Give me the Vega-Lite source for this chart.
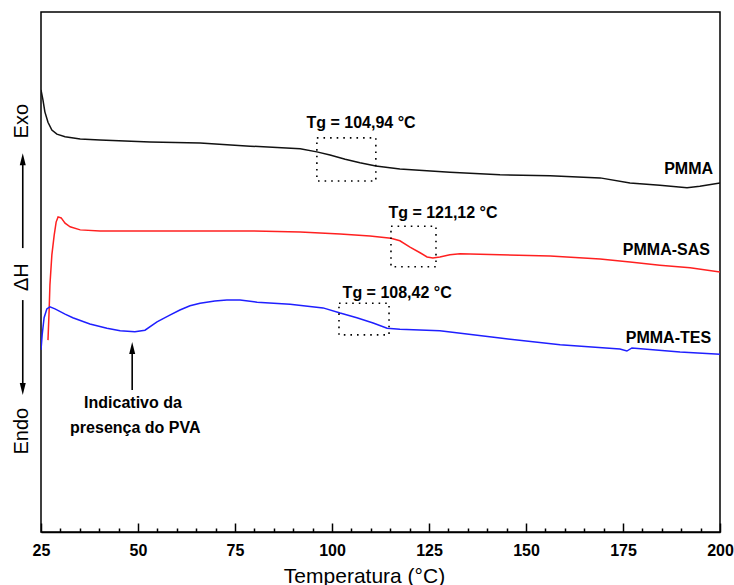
{
  "$schema": "https://vega.github.io/schema/vega-lite/v6.json",
  "width": 679,
  "height": 520,
  "autosize": {"type": "none"},
  "padding": {"left": 41, "top": 12, "right": 14, "bottom": 53},
  "background": "white",
  "config": {
    "view": {"stroke": "black", "strokeWidth": 1.5},
    "font": "Liberation Sans"
  },
  "datasets": {
    "curves": [
      {"series": "PMMA", "T": 25.0, "v": 8.50}, {"series": "PMMA", "T": 25.5, "v": 8.31}, {"series": "PMMA", "T": 26.0, "v": 8.08},
      {"series": "PMMA", "T": 26.8, "v": 7.88}, {"series": "PMMA", "T": 27.8, "v": 7.73}, {"series": "PMMA", "T": 29.1, "v": 7.65},
      {"series": "PMMA", "T": 31.2, "v": 7.60}, {"series": "PMMA", "T": 35.1, "v": 7.56}, {"series": "PMMA", "T": 40.2, "v": 7.54},
      {"series": "PMMA", "T": 53.1, "v": 7.50}, {"series": "PMMA", "T": 66.0, "v": 7.48}, {"series": "PMMA", "T": 78.9, "v": 7.42},
      {"series": "PMMA", "T": 91.8, "v": 7.37}, {"series": "PMMA", "T": 96.1, "v": 7.31}, {"series": "PMMA", "T": 99.5, "v": 7.25},
      {"series": "PMMA", "T": 103.4, "v": 7.17}, {"series": "PMMA", "T": 107.2, "v": 7.10}, {"series": "PMMA", "T": 111.3, "v": 7.04},
      {"series": "PMMA", "T": 117.5, "v": 6.98}, {"series": "PMMA", "T": 130.4, "v": 6.92}, {"series": "PMMA", "T": 143.3, "v": 6.87},
      {"series": "PMMA", "T": 156.2, "v": 6.85}, {"series": "PMMA", "T": 169.1, "v": 6.81}, {"series": "PMMA", "T": 176.8, "v": 6.71},
      {"series": "PMMA", "T": 184.5, "v": 6.67}, {"series": "PMMA", "T": 191.5, "v": 6.62}, {"series": "PMMA", "T": 194.8, "v": 6.65},
      {"series": "PMMA", "T": 200.0, "v": 6.71},
      {"series": "PMMA-SAS", "T": 26.8, "v": 3.69}, {"series": "PMMA-SAS", "T": 27.1, "v": 4.27}, {"series": "PMMA-SAS", "T": 27.3, "v": 4.75},
      {"series": "PMMA-SAS", "T": 27.8, "v": 5.33}, {"series": "PMMA-SAS", "T": 28.4, "v": 5.71}, {"series": "PMMA-SAS", "T": 28.9, "v": 5.96},
      {"series": "PMMA-SAS", "T": 29.4, "v": 6.06}, {"series": "PMMA-SAS", "T": 30.2, "v": 6.04}, {"series": "PMMA-SAS", "T": 31.2, "v": 5.94},
      {"series": "PMMA-SAS", "T": 32.5, "v": 5.87}, {"series": "PMMA-SAS", "T": 35.1, "v": 5.81}, {"series": "PMMA-SAS", "T": 40.2, "v": 5.79},
      {"series": "PMMA-SAS", "T": 53.1, "v": 5.79}, {"series": "PMMA-SAS", "T": 66.0, "v": 5.79}, {"series": "PMMA-SAS", "T": 78.9, "v": 5.79},
      {"series": "PMMA-SAS", "T": 91.8, "v": 5.77}, {"series": "PMMA-SAS", "T": 102.1, "v": 5.73}, {"series": "PMMA-SAS", "T": 109.8, "v": 5.69},
      {"series": "PMMA-SAS", "T": 115.2, "v": 5.65}, {"series": "PMMA-SAS", "T": 117.5, "v": 5.60}, {"series": "PMMA-SAS", "T": 120.1, "v": 5.48},
      {"series": "PMMA-SAS", "T": 122.7, "v": 5.37}, {"series": "PMMA-SAS", "T": 124.5, "v": 5.29}, {"series": "PMMA-SAS", "T": 126.0, "v": 5.27},
      {"series": "PMMA-SAS", "T": 127.8, "v": 5.29}, {"series": "PMMA-SAS", "T": 130.4, "v": 5.33}, {"series": "PMMA-SAS", "T": 133.0, "v": 5.35},
      {"series": "PMMA-SAS", "T": 143.3, "v": 5.33}, {"series": "PMMA-SAS", "T": 156.2, "v": 5.31}, {"series": "PMMA-SAS", "T": 169.1, "v": 5.25},
      {"series": "PMMA-SAS", "T": 176.8, "v": 5.19}, {"series": "PMMA-SAS", "T": 184.5, "v": 5.13}, {"series": "PMMA-SAS", "T": 192.3, "v": 5.08},
      {"series": "PMMA-SAS", "T": 200.0, "v": 5.00},
      {"series": "PMMA-TES", "T": 25.0, "v": 3.50}, {"series": "PMMA-TES", "T": 25.3, "v": 3.79}, {"series": "PMMA-TES", "T": 25.8, "v": 4.12},
      {"series": "PMMA-TES", "T": 26.5, "v": 4.29}, {"series": "PMMA-TES", "T": 27.3, "v": 4.33}, {"series": "PMMA-TES", "T": 28.6, "v": 4.29},
      {"series": "PMMA-TES", "T": 31.2, "v": 4.19}, {"series": "PMMA-TES", "T": 33.2, "v": 4.12}, {"series": "PMMA-TES", "T": 37.6, "v": 4.00},
      {"series": "PMMA-TES", "T": 42.0, "v": 3.92}, {"series": "PMMA-TES", "T": 45.4, "v": 3.87}, {"series": "PMMA-TES", "T": 49.2, "v": 3.85},
      {"series": "PMMA-TES", "T": 51.8, "v": 3.88}, {"series": "PMMA-TES", "T": 54.9, "v": 4.04}, {"series": "PMMA-TES", "T": 58.2, "v": 4.17},
      {"series": "PMMA-TES", "T": 60.8, "v": 4.27}, {"series": "PMMA-TES", "T": 63.4, "v": 4.35}, {"series": "PMMA-TES", "T": 66.0, "v": 4.40},
      {"series": "PMMA-TES", "T": 69.8, "v": 4.44}, {"series": "PMMA-TES", "T": 72.9, "v": 4.46}, {"series": "PMMA-TES", "T": 76.3, "v": 4.46},
      {"series": "PMMA-TES", "T": 80.7, "v": 4.42}, {"series": "PMMA-TES", "T": 89.2, "v": 4.38}, {"series": "PMMA-TES", "T": 97.7, "v": 4.31},
      {"series": "PMMA-TES", "T": 102.1, "v": 4.21}, {"series": "PMMA-TES", "T": 106.4, "v": 4.12}, {"series": "PMMA-TES", "T": 110.6, "v": 4.02},
      {"series": "PMMA-TES", "T": 114.2, "v": 3.92}, {"series": "PMMA-TES", "T": 117.5, "v": 3.90}, {"series": "PMMA-TES", "T": 127.8, "v": 3.87},
      {"series": "PMMA-TES", "T": 143.3, "v": 3.73}, {"series": "PMMA-TES", "T": 158.8, "v": 3.60}, {"series": "PMMA-TES", "T": 174.2, "v": 3.52},
      {"series": "PMMA-TES", "T": 176.0, "v": 3.48}, {"series": "PMMA-TES", "T": 177.3, "v": 3.54}, {"series": "PMMA-TES", "T": 189.7, "v": 3.46},
      {"series": "PMMA-TES", "T": 200.0, "v": 3.42}
    ],
    "boxes": [
      {"series": "PMMA", "T1": 96.1, "T2": 111.3, "v1": 6.75, "v2": 7.58},
      {"series": "PMMA-SAS", "T1": 115.2, "T2": 126.8, "v1": 5.10, "v2": 5.88},
      {"series": "PMMA-TES", "T1": 101.8, "T2": 114.7, "v1": 3.79, "v2": 4.40}
    ],
    "tglabels": [
      {"T": 107.5, "v": 7.87, "text": "Tg = 104,94 °C"},
      {"T": 128.6, "v": 6.13, "text": "Tg = 121,12 °C"},
      {"T": 116.8, "v": 4.60, "text": "Tg = 108,42 °C"},
      {"T": 48.7, "v": 2.48, "text": "Indicativo da"},
      {"T": 49.3, "v": 2.00, "text": "presença do PVA"}
    ],
    "names": [
      {"T": 198.2, "v": 6.98, "text": "PMMA"},
      {"T": 197.4, "v": 5.42, "text": "PMMA-SAS"},
      {"T": 197.7, "v": 3.73, "text": "PMMA-TES"}
    ],
    "ylabels": [
      {"T": 20.1, "v": 7.90, "text": "Exo"},
      {"T": 20.1, "v": 4.90, "text": "ΔH"},
      {"T": 20.1, "v": 1.94, "text": "Endo"}
    ],
    "shafts": [
      {"T": 20.3, "v1": 5.46, "v2": 7.10},
      {"T": 20.3, "v1": 4.46, "v2": 2.85},
      {"T": 48.5, "v1": 2.73, "v2": 3.45}
    ],
    "heads": [
      {"T": 20.3, "v": 7.17, "dir": "up"},
      {"T": 20.3, "v": 2.75, "dir": "down"},
      {"T": 48.5, "v": 3.54, "dir": "up"}
    ]
  },
  "layer": [
    {
      "data": {"name": "curves"},
      "mark": {"type": "line", "strokeWidth": 1.5, "clip": true},
      "encoding": {
        "x": {
          "field": "T", "type": "quantitative",
          "scale": {"domain": [25, 200], "nice": false, "zero": false},
          "axis": {
            "values": [25, 30, 35, 40, 45, 50, 55, 60, 65, 70, 75, 80, 85, 90, 95, 100, 105, 110, 115, 120, 125, 130, 135, 140, 145, 150, 155, 160, 165, 170, 175, 180, 185, 190, 195, 200],
            "tickCount": 200,
            "labelExpr": "datum.value % 25 === 0 ? datum.label : ''",
            "tickSize": {"condition": {"test": "datum.value % 25 === 0", "value": -9}, "value": -4},
            "tickColor": "black",
            "tickWidth": 1.5,
            "grid": false,
            "domainColor": "black",
            "domainWidth": 1.5,
            "labelFont": "Liberation Sans",
            "labelFontWeight": "bold",
            "labelFontSize": 16,
            "labelColor": "black",
            "labelPadding": 19,
            "labelFlush": false,
            "labelOverlap": false,
            "title": "Temperatura (°C)",
            "titleFont": "Liberation Sans",
            "titleFontWeight": "normal",
            "titleFontSize": 21,
            "titleColor": "black",
            "titlePadding": 2,
            "titleX": 323
          }
        },
        "y": {
          "field": "v", "type": "quantitative",
          "scale": {"domain": [0, 10], "nice": false, "zero": false},
          "axis": null
        },
        "color": {
          "field": "series", "type": "nominal",
          "scale": {"domain": ["PMMA", "PMMA-SAS", "PMMA-TES"], "range": ["#111111", "#ff2020", "#1f1fff"]},
          "legend": null
        }
      }
    },
    {
      "data": {"name": "boxes"},
      "mark": {"type": "rect", "filled": false, "stroke": "black", "strokeWidth": 1.6, "strokeDash": [1.6, 5]},
      "encoding": {
        "x": {"field": "T1", "type": "quantitative"},
        "x2": {"field": "T2"},
        "y": {"field": "v1", "type": "quantitative"},
        "y2": {"field": "v2"}
      }
    },
    {
      "data": {"name": "tglabels"},
      "mark": {"type": "text", "font": "Liberation Sans", "fontWeight": "bold", "fontSize": 16, "align": "center", "baseline": "middle", "color": "black"},
      "encoding": {
        "x": {"field": "T", "type": "quantitative"},
        "y": {"field": "v", "type": "quantitative"},
        "text": {"field": "text"}
      }
    },
    {
      "data": {"name": "names"},
      "mark": {"type": "text", "font": "Liberation Sans", "fontWeight": "bold", "fontSize": 16, "align": "right", "baseline": "middle", "color": "black"},
      "encoding": {
        "x": {"field": "T", "type": "quantitative"},
        "y": {"field": "v", "type": "quantitative"},
        "text": {"field": "text"}
      }
    },
    {
      "data": {"name": "ylabels"},
      "mark": {"type": "text", "font": "Liberation Sans", "fontSize": 20, "angle": 270, "align": "center", "baseline": "middle", "color": "black"},
      "encoding": {
        "x": {"field": "T", "type": "quantitative"},
        "y": {"field": "v", "type": "quantitative"},
        "text": {"field": "text"}
      }
    },
    {
      "data": {"name": "shafts"},
      "mark": {"type": "rule", "color": "black", "strokeWidth": 1.6},
      "encoding": {
        "x": {"field": "T", "type": "quantitative"},
        "y": {"field": "v1", "type": "quantitative"},
        "y2": {"field": "v2"}
      }
    },
    {
      "data": {"name": "heads"},
      "mark": {"type": "point", "filled": true, "color": "black", "opacity": 1, "size": 144},
      "encoding": {
        "x": {"field": "T", "type": "quantitative"},
        "y": {"field": "v", "type": "quantitative"},
        "shape": {
          "field": "dir", "type": "nominal",
          "scale": {"domain": ["up", "down"], "range": ["M0,-1L0.5,1L-0.5,1Z", "M0,1L0.5,-1L-0.5,-1Z"]},
          "legend": null
        }
      }
    }
  ]
}
